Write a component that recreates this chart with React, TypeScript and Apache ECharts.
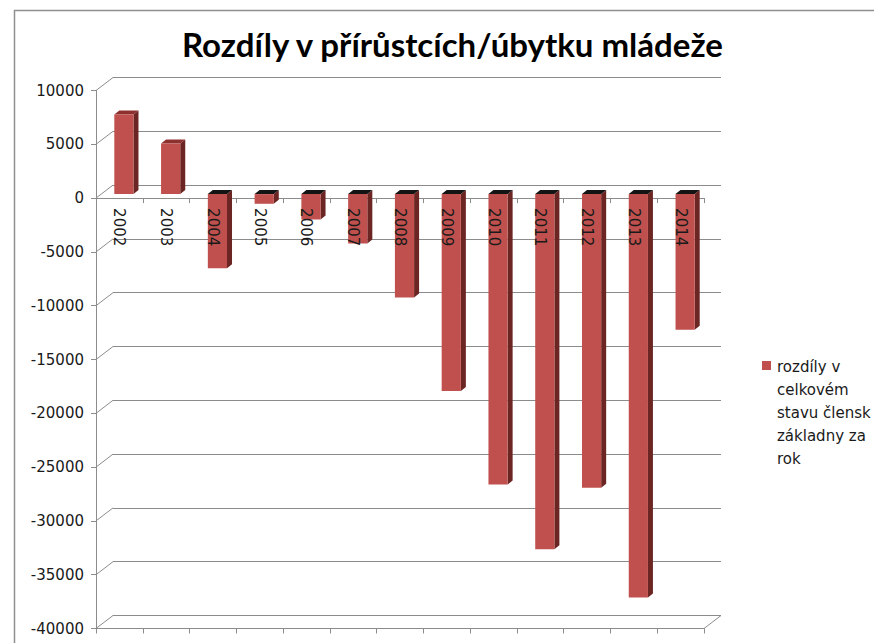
import React, { useEffect, useRef } from "react";
import * as echarts from "echarts";

const titleText = "Rozdíly v přírůstcích/úbytku mládeže";
const years = ["2002", "2003", "2004", "2005", "2006", "2007", "2008", "2009", "2010", "2011", "2012", "2013", "2014"];
const diffs = [7400, 4700, -6900, -900, -2350, -4600, -9600, -18300, -27000, -33000, -27300, -37500, -12600];
const yTicks = [10000, 5000, 0, -5000, -10000, -15000, -20000, -25000, -30000, -35000, -40000];
const legendLines = ["rozdíly v", "celkovém", "stavu člensk", "základny za", "rok"];
const seriesName = "rozdíly v celkovém stavu člensk základny za rok";

const Y_MIN = -40000;
const Y_MAX = 10000;
const Y_STEP = 5000;

const GRID_LEFT = 96;
const GRID_TOP = 90.5;
const GRID_W = 608;
const GRID_H = 538;
const WALL_DX = 17;
const WALL_DY = -13;

const GRAY = "#8c8c8c";
const RED = "#C0504D";

export default function App() {
  const ref = useRef<HTMLDivElement>(null);

  useEffect(() => {
    document.body.style.margin = "0";
    if (!ref.current) return;
    const chart = echarts.init(ref.current, undefined, { renderer: "svg" });

    const barData = diffs.map((v, i) => [i, v]);
    const tickData = yTicks.map((v) => [0, v]);
    // height of the part of the plot above the zero value (for the label strip)
    const aboveZeroH = (GRID_H * (Y_MAX - 0)) / (Y_MAX - Y_MIN);

    const option: any = {
      animation: false,
      backgroundColor: "#ffffff",
      title: {
        text: titleText,
        left: 177,
        top: 22,
        textStyle: {
          fontFamily: "Lato",
          fontWeight: "bold",
          fontSize: 33,
          color: "#000000",
        },
      },
      grid: [
        { left: GRID_LEFT, top: GRID_TOP, width: GRID_W, height: GRID_H, containLabel: false, outerBoundsMode: "none" },
        { left: GRID_LEFT + WALL_DX, top: GRID_TOP + WALL_DY, width: GRID_W, height: GRID_H, containLabel: false, outerBoundsMode: "none" },
        { left: GRID_LEFT, top: GRID_TOP, width: GRID_W, height: aboveZeroH, containLabel: false, outerBoundsMode: "none", z: 10 },
      ],
      xAxis: [
        {
          // zero line with ticks, behind bars
          gridIndex: 0,
          type: "category",
          data: years,
          z: 0,
          axisLine: { show: true, onZero: true, lineStyle: { color: GRAY, width: 1 } },
          axisTick: { show: true, length: 5, lineStyle: { color: GRAY } },
          axisLabel: { show: false },
        },
        {
          // floor front edge
          gridIndex: 0,
          type: "category",
          data: years,
          position: "bottom",
          z: 0,
          axisLine: { show: true, onZero: false, lineStyle: { color: GRAY, width: 1 } },
          axisTick: { show: true, length: 5, lineStyle: { color: GRAY } },
          axisLabel: { show: false },
        },
        {
          gridIndex: 1,
          type: "category",
          data: years,
          show: false,
        },
        {
          // category labels along the zero line, drawn above the bars
          gridIndex: 2,
          type: "category",
          data: years,
          position: "bottom",
          z: 10,
          axisLine: { show: false, onZero: false },
          axisTick: { show: false },
          axisLabel: {
            rotate: -90,
            margin: 10,
            padding: [9, 0, 0, 0],
            fontFamily: "DejaVu Sans",
            fontSize: 15,
            color: "#1a1a1a",
          },
        },
      ],
      yAxis: [
        {
          gridIndex: 0,
          type: "value",
          min: Y_MIN,
          max: Y_MAX,
          interval: Y_STEP,
          z: 1,
          axisLine: { show: true, lineStyle: { color: GRAY, width: 1 } },
          axisTick: { show: true, length: 5, lineStyle: { color: GRAY } },
          splitLine: { show: false },
          axisLabel: {
            margin: 12,
            fontFamily: "DejaVu Sans",
            fontSize: 15,
            color: "#1a1a1a",
            formatter: (v: number) => String(v),
          },
        },
        {
          gridIndex: 1,
          type: "value",
          min: Y_MIN,
          max: Y_MAX,
          interval: Y_STEP,
          z: 0,
          axisLine: { show: false },
          axisTick: { show: false },
          axisLabel: { show: false },
          splitLine: { show: true, lineStyle: { color: GRAY, width: 1 } },
        },
        {
          gridIndex: 2,
          type: "value",
          min: 0,
          max: Y_MAX,
          show: false,
        },
      ],
      series: [
        {
          type: "custom",
          name: "wall-edges",
          xAxisIndex: 0,
          yAxisIndex: 0,
          z: 1,
          silent: true,
          data: tickData,
          renderItem: (params: any, api: any) => {
            const v = api.value(1);
            const y = api.coord([0, v])[1];
            const cs = params.coordSys;
            const children: any[] = [
              {
                type: "line",
                shape: { x1: cs.x, y1: y, x2: cs.x + WALL_DX, y2: y + WALL_DY },
                style: { stroke: GRAY, lineWidth: 1 },
              },
            ];
            if (v === Y_MIN) {
              children.push({
                type: "line",
                shape: { x1: cs.x + cs.width, y1: y, x2: cs.x + cs.width + WALL_DX, y2: y + WALL_DY },
                style: { stroke: GRAY, lineWidth: 1 },
              });
            }
            return { type: "group", children };
          },
        },
        {
          type: "custom",
          name: seriesName,
          xAxisIndex: 0,
          yAxisIndex: 0,
          z: 5,
          data: barData,
          renderItem: (params: any, api: any) => {
            const i = api.value(0);
            const v = api.value(1);
            const base = api.coord([i, 0]);
            const top = api.coord([i, v]);
            const band = api.size([1, 0])[0];
            const w = band * 0.41;
            const xL = base[0] - w / 2 + 4.5;
            const xR = xL + w;
            const y1 = Math.min(base[1], top[1]) - 4;
            const y2 = Math.max(base[1], top[1]) - 4;
            const ddx = 5;
            const ddy = -4;
            const topColor = v >= 0 ? "#8e312e" : "#141414";
            return {
              type: "group",
              children: [
                {
                  type: "polygon",
                  shape: { points: [[xR, y1], [xR + ddx, y1 + ddy], [xR + ddx, y2 + ddy], [xR, y2]] },
                  style: { fill: "#6b2523" },
                },
                {
                  type: "polygon",
                  shape: { points: [[xL, y1], [xL + ddx, y1 + ddy], [xR + ddx, y1 + ddy], [xR, y1]] },
                  style: { fill: topColor },
                },
                {
                  type: "rect",
                  shape: { x: xL, y: y1, width: w, height: y2 - y1 },
                  style: { fill: RED },
                },
              ],
            };
          },
        },
      ],
      graphic: [
        {
          type: "polyline",
          silent: true,
          shape: { points: [[14.5, 660], [14.5, 10.5], [900, 10.5]] },
          style: { stroke: "#8f8f8f", lineWidth: 1.5, fill: "none" },
        },
        {
          type: "rect",
          shape: { x: 762, y: 361, width: 9, height: 9 },
          style: { fill: RED },
        },
        {
          type: "text",
          x: 777,
          y: 355.5,
          style: {
            text: legendLines.join("\n"),
            fontFamily: "DejaVu Sans",
            fontSize: 15,
            lineHeight: 23,
            fill: "#1a1a1a",
            verticalAlign: "top",
            align: "left",
          },
        },
      ],
    };

    chart.setOption(option);
    return () => chart.dispose();
  }, []);

  return <div ref={ref} style={{ width: 874, height: 643 }} />;
}
